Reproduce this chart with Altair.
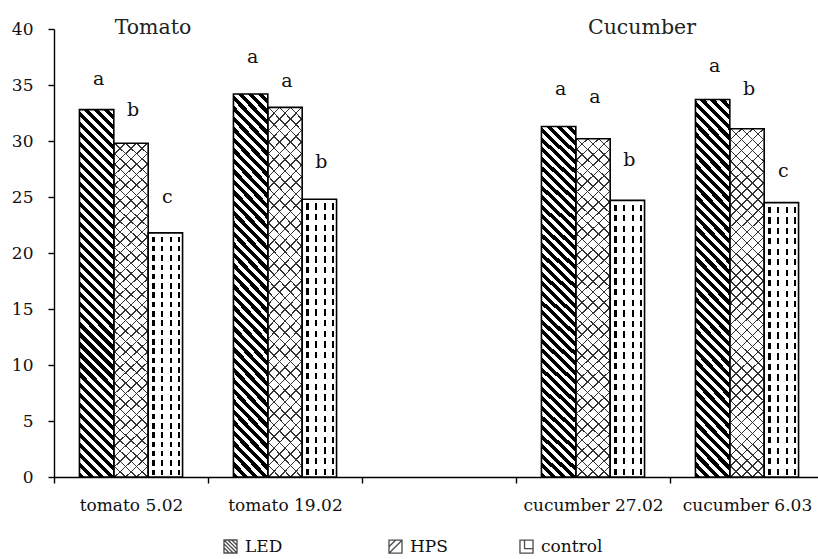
import altair as alt
import pandas as pd

# ---------------- data ----------------
categories = ["tomato 5.02", "tomato 19.02", "", "cucumber 27.02", "cucumber 6.03"]
data_categories = ["tomato 5.02", "tomato 19.02", "cucumber 27.02", "cucumber 6.03"]
series = ["LED", "HPS", "control"]
led_values = [32.8, 34.2, 31.3, 33.7]
hps_values = [29.8, 33.0, 30.2, 31.1]
control_values = [21.8, 24.8, 24.7, 24.5]
led_letters = ["a", "a", "a", "a"]
hps_letters = ["b", "a", "a", "b"]
control_letters = ["c", "b", "b", "c"]
led_letter_y = [35.5, 37.5, 34.6, 36.7]
hps_letter_y = [32.8, 35.4, 33.9, 34.6]
control_letter_y = [25.0, 28.1, 28.3, 27.3]
group_titles = ["Tomato", "Cucumber"]
group_title_anchor = ["tomato 5.02", "cucumber 27.02"]
y_ticks = [0, 5, 10, 15, 20, 25, 30, 35, 40]

rows = []
for i, cat in enumerate(data_categories):
    for s, vals, lets, ly in zip(
        series,
        [led_values, hps_values, control_values],
        [led_letters, hps_letters, control_letters],
        [led_letter_y, hps_letter_y, control_letter_y],
    ):
        rows.append({"category": cat, "series": s, "value": vals[i],
                     "letter": lets[i], "letter_y": ly[i]})
df = pd.DataFrame(rows)

# ---------------- style ----------------
FONT = "DejaVu Serif"
INK = "#111111"
X_RANGE = 770
OFFSET_PAD = 0.74
BAR_W = X_RANGE / len(categories) / (len(series) + 2 * OFFSET_PAD)


def diagonal(h, pv, duty, ink, paper, down=True):
    """Stripes at 45 degrees in screen space for a bar of width BAR_W and height h."""
    w = BAR_W
    L = w + h
    c = L / (w * w + h * h)
    if down:
        x1, y1, x2, y2 = 0, 1, c * w, 1 - c * h
    else:
        x1, y1, x2, y2 = 0, 0, c * w, c * h
    step = pv / L
    stops = []
    k = 0
    while k * step < 1:
        a = k * step
        b = min(a + duty * step, 1)
        e = min((k + 1) * step, 1)
        stops += [
            {"offset": round(a, 5), "color": ink},
            {"offset": round(b, 5), "color": ink},
            {"offset": round(b, 5), "color": paper},
            {"offset": round(e, 5), "color": paper},
        ]
        k += 1
    return {"gradient": "linear", "x1": round(x1, 5), "y1": round(y1, 5),
            "x2": round(x2, 5), "y2": round(y2, 5), "stops": stops}


def vlines(centers, width, ink, paper):
    stops = [{"offset": 0, "color": paper}]
    for cc in centers:
        a, b = cc - width / 2, cc + width / 2
        stops += [{"offset": a, "color": paper}, {"offset": a, "color": ink},
                  {"offset": b, "color": ink}, {"offset": b, "color": paper}]
    stops.append({"offset": 1, "color": paper})
    return {"gradient": "linear", "x1": 0, "y1": 0, "x2": 1, "y2": 0, "stops": stops}


def hbands(h, pv, duty, band, clear):
    step = pv / h
    stops = []
    k = 0
    while k * step < 1:
        a = k * step
        b = min(a + duty * step, 1)
        e = min((k + 1) * step, 1)
        stops += [
            {"offset": round(a, 5), "color": band},
            {"offset": round(b, 5), "color": band},
            {"offset": round(b, 5), "color": clear},
            {"offset": round(e, 5), "color": clear},
        ]
        k += 1
    return {"gradient": "linear", "x1": 0, "y1": 0, "x2": 0, "y2": 1, "stops": stops}


CLEAR = "rgba(255,255,255,0)"
led_fill = diagonal(366, 10, 0.52, "#000000", "#ffffff", down=True)
hps_fill_a = diagonal(352, 11, 0.14, "#333333", "#ffffff", down=False)
hps_fill_b = diagonal(352, 11, 0.14, "#333333", CLEAR, down=True)
ctl_fill_a = vlines([0.155, 0.40, 0.66, 0.90], 0.06, "#000000", "#ffffff")
ctl_fill_b = hbands(262, 10, 0.4, "#ffffff", CLEAR)

legend_shapes = [
    "M-1,-1H1V1H-1Z M-1,-1L1,1 M-1,-0.4L0.4,1 M-0.4,-1L1,0.4 M-1,0.2L-0.2,1 M0.2,-1L1,-0.2",
    "M-1,-1H1V1H-1Z M-1,1L1,-1 M-1,0L0,-1",
    "M-1,-1H1V1H-1Z M-0.3,-1V0.3H1",
]

# ---------------- encodings ----------------
x_enc = alt.X(
    "category:N",
    scale=alt.Scale(domain=categories, range=[0, X_RANGE], paddingInner=0, paddingOuter=0),
    axis=alt.Axis(title=None, labelAngle=0, tickBand="extent", tickSize=6,
                  labelPadding=14, labelOverlap=False),
)
xo_enc = alt.XOffset("series:N", scale=alt.Scale(domain=series, paddingInner=0,
                                                 paddingOuter=OFFSET_PAD))
y_enc = alt.Y("value:Q", scale=alt.Scale(domain=[0, 40], nice=False),
              axis=alt.Axis(title=None, values=y_ticks, tickSize=6, labelPadding=15))

base = alt.Chart(df)


def legend_layer(entries, lx, col_pad):
    return base.transform_calculate(mid="datum.value / 2").mark_point(
        filled=False, stroke="black", strokeWidth=1.2, size=60
    ).encode(
        x=x_enc, xOffset=xo_enc,
        y=alt.Y("mid:Q", scale=alt.Scale(domain=[0, 40], nice=False)),
        shape=alt.Shape(
            "series:N",
            scale=alt.Scale(domain=series, range=legend_shapes),
            legend=alt.Legend(
                title=None, orient="none", legendX=lx, legendY=509, values=entries,
                direction="horizontal", symbolSize=170, symbolStrokeWidth=1.3,
                symbolStrokeColor="black", symbolFillColor="white",
                labelFont=FONT, labelFontSize=17, labelColor=INK, labelOffset=6,
                columnPadding=col_pad, padding=0,
            ),
        ),
    )


def pattern_layer(name, fill):
    return base.transform_filter(alt.datum.series == name).mark_bar(
        fill=fill, strokeWidth=0
    ).encode(x=x_enc, xOffset=xo_enc, y=y_enc)


layers = [
    legend_layer(["LED"], 168, 0),
    legend_layer(["HPS", "control"], 333, 69),
    pattern_layer("LED", led_fill),
    pattern_layer("HPS", hps_fill_a),
    pattern_layer("HPS", hps_fill_b),
    pattern_layer("control", ctl_fill_a),
    pattern_layer("control", ctl_fill_b),
]

outline = base.mark_bar(fill="transparent", stroke="black", strokeWidth=1.6).encode(
    x=x_enc, xOffset=xo_enc, y=y_enc
)
layers.append(outline)

letters = base.mark_text(font=FONT, fontSize=19, color=INK, baseline="middle", dx=2).encode(
    x=x_enc, xOffset=xo_enc,
    y=alt.Y("letter_y:Q", scale=alt.Scale(domain=[0, 40], nice=False)),
    text="letter:N",
)
layers.append(letters)

titles_df = pd.DataFrame({"title": group_titles, "anchor": group_title_anchor})
title_dx = [22, 49]
for t, dx in zip(group_titles, title_dx):
    layers.append(
        alt.Chart(titles_df).transform_filter(alt.datum.title == t).mark_text(
            font=FONT, fontSize=20.5, color="#222222", baseline="middle", dx=dx, dy=-1
        ).encode(
            x=alt.X("anchor:N", scale=alt.Scale(domain=categories, range=[0, X_RANGE],
                                                paddingInner=0, paddingOuter=0)),
            y=alt.datum(40),
            text="title:N",
        )
    )

chart = alt.layer(*layers).resolve_scale(shape="independent").resolve_legend(
    shape="independent"
).properties(
    width=764, height=448,
    autosize=alt.AutoSizeParams(type="none"),
    padding={"left": 54, "top": 29, "right": 0, "bottom": 82},
    background="white",
).configure_view(stroke="transparent").configure_axis(
    labelFont=FONT, labelFontSize=17, labelColor=INK,
    domainColor="black", tickColor="black", domainWidth=1.4, tickWidth=1.4, grid=False,
)

chart.save("out.html", embed_options={"renderer": "svg", "actions": False})
